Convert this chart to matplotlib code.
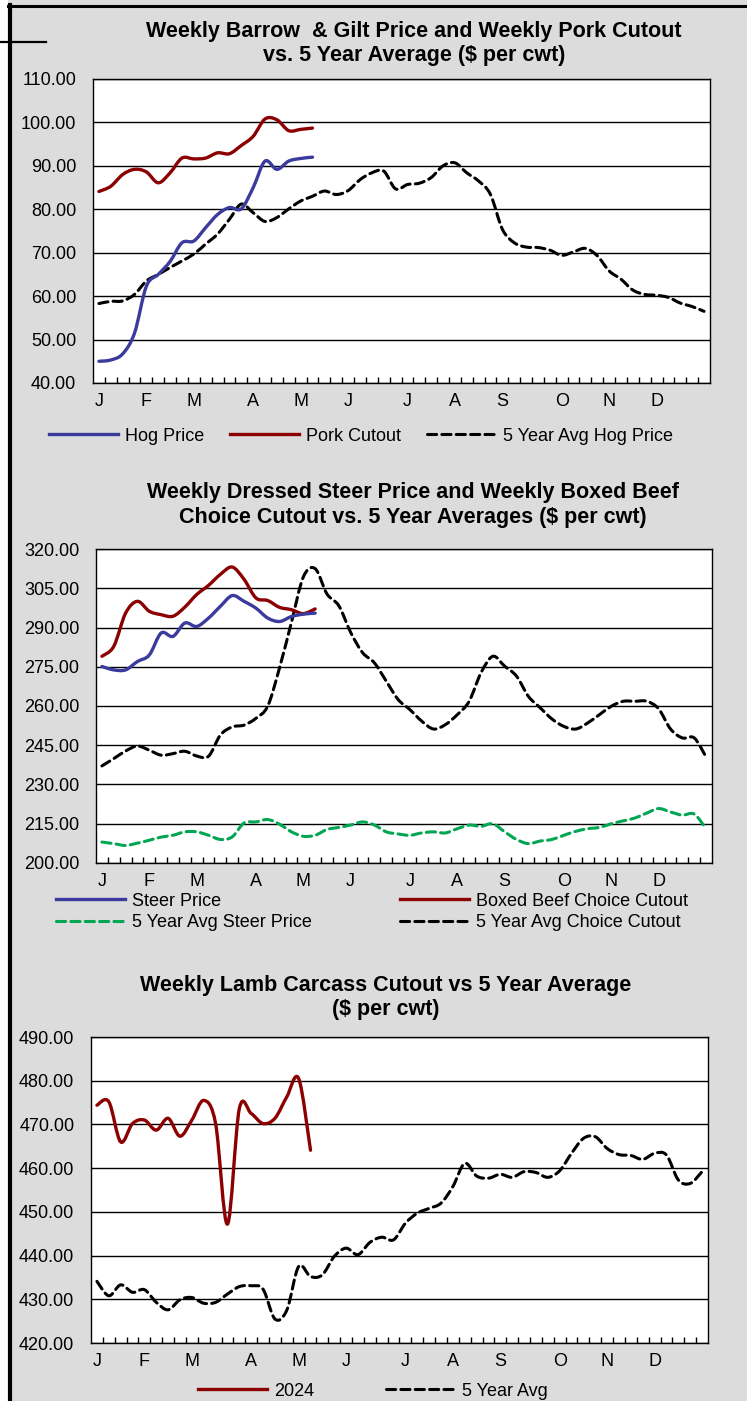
import numpy as np
import matplotlib
matplotlib.use('Agg')
import matplotlib.pyplot as plt
from matplotlib.path import Path
from matplotlib.patches import PathPatch, Rectangle
from matplotlib.lines import Line2D

plt.rcParams['font.family'] = ['Liberation Sans', 'DejaVu Sans']

# ---- data ($ per cwt, weekly) ----
month_labels = ['J', 'F', 'M', 'A', 'M', 'J', 'J', 'A', 'S', 'O', 'N', 'D']
month_weeks = [0, 4, 8, 13, 17, 21, 26, 30, 34, 39, 43, 47]

hog_price = [45.0, 45.3, 46.7, 51.5, 62.3, 65.0, 68.0, 72.3, 72.7, 75.8, 78.8,
             80.4, 80.1, 85.0, 91.1, 89.2, 91.1, 91.7, 92.0]
pork_cutout = [84.1, 85.3, 88.0, 89.2, 88.6, 86.1, 88.4, 91.8, 91.6, 91.8, 93.0,
               92.8, 94.7, 96.8, 100.8, 100.6, 98.1, 98.4, 98.7]
hog_5yr = [58.3, 58.8, 58.9, 60.4, 63.5, 65.0, 66.6, 68.1, 69.7, 72.0,
           74.3, 77.7, 81.2, 79.2, 77.2, 78.1, 80.1, 81.9, 83.0, 84.2,
           83.4, 84.3, 86.8, 88.4, 88.8, 84.7, 85.7, 86.0, 87.3, 90.0,
           90.7, 88.4, 86.5, 83.4, 75.4, 72.3, 71.3, 71.2, 70.6, 69.4,
           70.2, 71.0, 69.3, 65.8, 63.9, 61.4, 60.4, 60.2, 59.7, 58.4,
           57.6, 56.5]

steer_price = [275.1, 273.8, 273.8, 277.0, 279.5, 287.9, 286.6, 291.7, 290.4,
               293.6, 298.1, 302.2, 300.0, 297.4, 293.6, 292.3, 294.2, 295.1, 295.5]
boxed_beef = [279.0, 282.8, 295.5, 300.0, 296.2, 294.9, 294.3, 297.8, 302.6,
              306.1, 310.3, 313.1, 308.4, 301.3, 300.3, 297.7, 296.8, 295.3, 297.1]
steer_5yr = [208.0, 207.4, 206.7, 207.6, 208.7, 209.9, 210.6, 211.9, 211.9, 210.6,
             209.0, 210.0, 215.3, 215.7, 216.6, 214.8, 211.9, 210.2, 210.6, 212.8,
             213.6, 214.5, 215.7, 214.5, 211.9, 211.1, 210.6, 211.5, 211.9, 211.5,
             213.1, 214.5, 214.0, 215.0, 211.9, 209.0, 207.4, 208.4, 209.0, 210.6,
             212.1, 213.1, 213.6, 215.0, 216.1, 217.2, 219.1, 220.8, 219.5, 218.3,
             218.7, 213.1]
choice_5yr = [237.1, 239.9, 242.8, 244.7, 243.1, 241.2, 241.8, 242.7, 240.9, 240.8,
              248.9, 252.0, 252.7, 255.3, 260.0, 274.7, 292.0, 309.3, 312.5, 302.8,
              298.3, 288.1, 280.4, 276.5, 269.5, 262.5, 258.6, 254.2, 251.2, 252.9,
              256.7, 261.8, 272.7, 279.0, 275.2, 271.4, 263.7, 259.3, 255.0, 252.2,
              251.2, 253.5, 256.7, 259.9, 261.8, 261.8, 261.8, 258.9, 251.2, 247.8,
              247.8, 240.5]

lamb_2024 = [474.4, 475.2, 466.0, 470.2, 471.0, 468.7, 471.4, 467.3, 471.0, 475.5,
             470.2, 447.2, 473.6, 472.5, 470.2, 471.4, 476.3, 480.5, 464.1]
lamb_5yr = [434.1, 430.8, 433.3, 431.6, 432.2, 429.3, 427.6, 429.9, 430.4, 429.1,
            429.3, 431.2, 432.9, 433.1, 432.3, 425.5, 427.5, 437.5, 435.2, 435.6,
            439.8, 441.7, 440.2, 443.0, 444.2, 443.6, 447.4, 449.7, 450.8, 452.0,
            455.8, 461.1, 458.2, 457.7, 458.6, 457.9, 459.2, 459.0, 457.9, 459.4,
            463.4, 466.8, 467.2, 464.5, 463.1, 462.9, 462.0, 463.4, 463.0, 457.3,
            456.5, 459.2]

BLUE = '#3b3b9e'
RED = '#8b0000'
GREEN = '#00a651'
BG = '#dcdcdc'
FS = 13
TFS = 15.5
DASH = (0, (3, 1.7))

W, H = 747, 1401
fig = plt.figure(figsize=(W / 100, H / 100), dpi=100, facecolor=BG)


def smooth(ax, values, color, lw, ls='-'):
    # excel-style smoothed line: catmull-rom segments as bezier curves
    pts = np.column_stack([np.arange(len(values)), values]).astype(float)
    n = len(pts)
    verts, codes = [pts[0]], [Path.MOVETO]
    for i in range(n - 1):
        p0 = pts[max(i - 1, 0)]
        p1, p2 = pts[i], pts[i + 1]
        p3 = pts[min(i + 2, n - 1)]
        verts += [p1 + (p2 - p0) / 6, p2 - (p3 - p1) / 6, p2]
        codes += [Path.CURVE4] * 3
    ax.add_patch(PathPatch(Path(verts, codes), facecolor='none', edgecolor=color,
                           lw=lw, linestyle=ls, capstyle='round', joinstyle='round',
                           zorder=3))


def make_axes(left, right, top, bottom, ymin, ymax, step):
    ax = fig.add_axes([left / W, 1 - bottom / H, (right - left) / W, (bottom - top) / H])
    ax.set_facecolor('white')
    ax.set_xlim(-0.5, 51.5)
    ax.set_ylim(ymin, ymax)
    yt = np.arange(ymin, ymax + step / 2, step)
    ax.set_yticks(yt, [f'{v:.2f}' for v in yt])
    ax.set_xticks(month_weeks, month_labels)
    ax.set_xticks(np.arange(0.5, 51, 1), minor=True)
    ax.tick_params(axis='x', which='major', length=0, pad=7, labelsize=FS)
    ax.tick_params(axis='x', which='minor', direction='in', length=4, width=1, color='black')
    ax.tick_params(axis='y', which='both', length=0, pad=12, labelsize=FS)
    ax.yaxis.grid(True, color='black', lw=1)
    ax.set_axisbelow(True)
    for s in ax.spines.values():
        s.set_color('black')
        s.set_linewidth(1)
    return ax


def title(lines, x, y1, y2):
    fig.text(x / W, 1 - y1 / H, lines[0], ha='center', va='center',
             fontsize=TFS, fontweight='bold')
    fig.text(x / W, 1 - y2 / H, lines[1], ha='center', va='center',
             fontsize=TFS, fontweight='bold')


def legend(handles, labels, x, y, ncol, colsp, lsp=0.25):
    fig.legend(handles, labels, loc='center left', bbox_to_anchor=(x / W, 1 - y / H),
               ncol=ncol, frameon=False, fontsize=FS, handlelength=3.8,
               handletextpad=0.4, columnspacing=colsp, borderpad=0, borderaxespad=0,
               labelspacing=lsp)


def proxy(color, lw, ls='-'):
    return Line2D([], [], color=color, lw=lw, linestyle=ls, dash_capstyle='round')


# frame decoration
fig.patches.append(Rectangle((0, 0), 8 / W, 1, transform=fig.transFigure,
                             facecolor='white', edgecolor='none'))
fig.add_artist(Line2D([10 / W, 10 / W], [0, 1 - 5 / H], color='black', lw=3,
                      transform=fig.transFigure))
fig.add_artist(Line2D([8 / W, 1], [1 - 6 / H, 1 - 6 / H], color='black', lw=2.2,
                      transform=fig.transFigure))
fig.add_artist(Line2D([0, 46 / W], [1 - 42 / H, 1 - 42 / H], color='black', lw=1.6,
                      transform=fig.transFigure))

# ---- chart 1: hogs ----
title(['Weekly Barrow  & Gilt Price and Weekly Pork Cutout',
       'vs. 5 Year Average ($ per cwt)'], 414, 32, 56)
ax1 = make_axes(93, 710, 79, 383, 40, 110, 10)
smooth(ax1, hog_5yr, 'black', 2.2, DASH)
smooth(ax1, pork_cutout, RED, 2.4)
smooth(ax1, hog_price, BLUE, 2.4)
legend([proxy(BLUE, 2.4), proxy(RED, 2.4), proxy('black', 2.2, DASH)],
       ['Hog Price', 'Pork Cutout', '5 Year Avg Hog Price'], 49, 436, 3, 1.45)

# ---- chart 2: cattle ----
title(['Weekly Dressed Steer Price and Weekly Boxed Beef',
       'Choice Cutout vs. 5 Year Averages ($ per cwt)'], 413, 493, 517)
ax2 = make_axes(96, 712, 549, 863, 200, 320, 15)
smooth(ax2, steer_5yr, GREEN, 2.2, DASH)
smooth(ax2, choice_5yr, 'black', 2.2, DASH)
smooth(ax2, boxed_beef, RED, 2.4)
smooth(ax2, steer_price, BLUE, 2.4)
legend([proxy(BLUE, 2.4), proxy(GREEN, 2.2, DASH), proxy(RED, 2.4), proxy('black', 2.2, DASH)],
       ['Steer Price', '5 Year Avg Steer Price', 'Boxed Beef Choice Cutout',
        '5 Year Avg Choice Cutout'], 56, 912, 2, 4.9)

# ---- chart 3: lamb ----
title(['Weekly Lamb Carcass Cutout vs 5 Year Average', '($ per cwt)'], 386, 986, 1010)
ax3 = make_axes(91, 708, 1037, 1343, 420, 490, 10)
smooth(ax3, lamb_5yr, 'black', 2.2, DASH)
smooth(ax3, lamb_2024, RED, 2.4)
legend([proxy(RED, 2.4), proxy('black', 2.2, DASH)], ['2024', '5 Year Avg'],
       198, 1391, 2, 4.0)

fig.savefig('out.png', dpi=100, facecolor=BG)
